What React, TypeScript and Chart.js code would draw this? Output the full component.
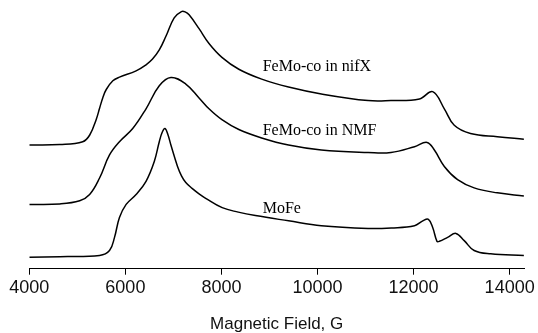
import { useEffect, useRef } from "react";
import { Chart, registerables } from "chart.js";

Chart.register(...registerables);

// X axis ticks (Magnetic Field, G)
const xTicks = [4000, 6000, 8000, 10000, 12000, 14000];

// FeMo-co in nifX
const nifXField = [4000, 4635, 5112, 5258, 5395, 5463, 5532, 5602, 5739, 5877, 6223, 6430, 6561, 6706, 6844, 7016, 7167, 7244, 7327, 7534, 7741, 8010, 8362, 8838, 9397, 10080, 11053, 11529, 12123, 12398, 12640, 12847, 13185, 13744, 14296];
const nifXIntensity = [125.8, 126.3, 129.2, 136.0, 152.0, 163.0, 174.0, 182.0, 190.8, 194.5, 200.8, 207.0, 212.5, 222.0, 235.8, 254.5, 260.8, 260.5, 257.5, 243.5, 228.5, 214.5, 202.5, 192.5, 184.5, 177.5, 170.8, 170.8, 172.5, 179.8, 162.5, 145.8, 137.5, 134.2, 131.8];

// FeMo-co in NMF
const nmfField = [4000, 4635, 5049, 5256, 5463, 5670, 5877, 6153, 6430, 6706, 6948, 7258, 7534, 7741, 8010, 8362, 8838, 9397, 10080, 11053, 11529, 12019, 12280, 12433, 12640, 12916, 13261, 13744, 14296];
const nmfIntensity = [65.8, 66.3, 69.5, 75.8, 92.5, 115.8, 129.2, 142.5, 162.5, 185.8, 194.2, 187.5, 173.5, 162.5, 151.5, 141.5, 133.0, 125.8, 120.8, 118.3, 118.3, 124.2, 128.5, 120.8, 104.2, 90.8, 82.5, 77.5, 74.2];

// MoFe
const mofeField = [4000, 4635, 5463, 5670, 5774, 5877, 6016, 6223, 6430, 6602, 6706, 6765, 6824, 6885, 6948, 7084, 7171, 7258, 7389, 7534, 7672, 8016, 8350, 8707, 9397, 10080, 11053, 11535, 12019, 12191, 12309, 12398, 12487, 12537, 12709, 12881, 13054, 13261, 13605, 14296];
const mofeIntensity = [12.5, 13.0, 14.2, 19.2, 32.5, 52.5, 65.8, 75.8, 89.2, 109.2, 129.2, 138.5, 142.5, 136.5, 125.8, 104.5, 94.5, 88.0, 82.0, 76.5, 72.0, 62.5, 58.0, 54.5, 49.2, 44.2, 41.5, 42.0, 44.2, 49.2, 50.8, 42.5, 28.5, 28.5, 32.5, 36.5, 29.2, 19.2, 15.8, 14.2];

// In-plot labels and their anchor (field, intensity)
const seriesLabels = ["FeMo-co in nifX", "FeMo-co in NMF", "MoFe"];
const labelField = [8858, 8858, 8858];
const labelIntensity = [200.5, 135.8, 57.5];

export default function App() {
  const ref = useRef<HTMLCanvasElement>(null);

  useEffect(() => {
    if (!ref.current) return;
    const toPts = (xs: number[], ys: number[]) => xs.map((x, i) => ({ x, y: ys[i] }));

    const labelPlugin = {
      id: "seriesLabels",
      afterDatasetsDraw(chart: any) {
        const { ctx, scales } = chart;
        ctx.save();
        ctx.font = '16px "Liberation Serif"';
        ctx.fillStyle = "#000";
        ctx.textBaseline = "alphabetic";
        ctx.textAlign = "left";
        seriesLabels.forEach((t, i) => {
          ctx.fillText(t, scales.x.getPixelForValue(labelField[i]), scales.y.getPixelForValue(labelIntensity[i]));
        });
        ctx.restore();
      },
    };

    const lineStyle = {
      borderColor: "#000",
      borderWidth: 1.5,
      pointRadius: 0,
      fill: false,
      tension: 0.4,
    };

    const chart = new Chart(ref.current, {
      type: "line",
      data: {
        datasets: [
          { label: seriesLabels[0], data: toPts(nifXField, nifXIntensity), ...lineStyle },
          { label: seriesLabels[1], data: toPts(nmfField, nmfIntensity), ...lineStyle },
          { label: seriesLabels[2], data: toPts(mofeField, mofeIntensity), ...lineStyle },
        ],
      },
      options: {
        animation: false,
        responsive: false,
        maintainAspectRatio: false,
        layout: { padding: { left: 29.3, right: 11.3, top: 0, bottom: 0 } },
        plugins: { legend: { display: false }, tooltip: { enabled: false } },
        scales: {
          x: {
            type: "linear",
            min: 4000,
            max: 14300,
            afterBuildTicks: (s: any) => {
              s.ticks = xTicks.map((v) => ({ value: v }));
            },
            ticks: {
              font: { family: "Liberation Sans", size: 18 },
              color: "#111",
              padding: 3,
              maxRotation: 0,
              autoSkip: false,
              callback: (v: any) => String(v),
            },
            grid: { drawOnChartArea: false, drawTicks: true, tickLength: 6, color: "#000", lineWidth: 1 },
            border: { display: true, color: "#000", width: 1 },
            title: {
              display: true,
              text: "Magnetic Field, G",
              font: { family: "Liberation Sans", size: 17, lineHeight: 1 },
              color: "#111",
              padding: { top: 13.7, bottom: 0 },
            },
          },
          y: { type: "linear", display: false, min: 0.8, max: 272.5 },
        },
      },
      plugins: [labelPlugin],
    });
    return () => chart.destroy();
  }, []);

  return (
    <div style={{ position: "absolute", left: 0, top: 0, width: 538, height: 333 }}>
      <canvas ref={ref} width={538} height={333} style={{ width: 538, height: 333, display: "block" }} />
    </div>
  );
}
